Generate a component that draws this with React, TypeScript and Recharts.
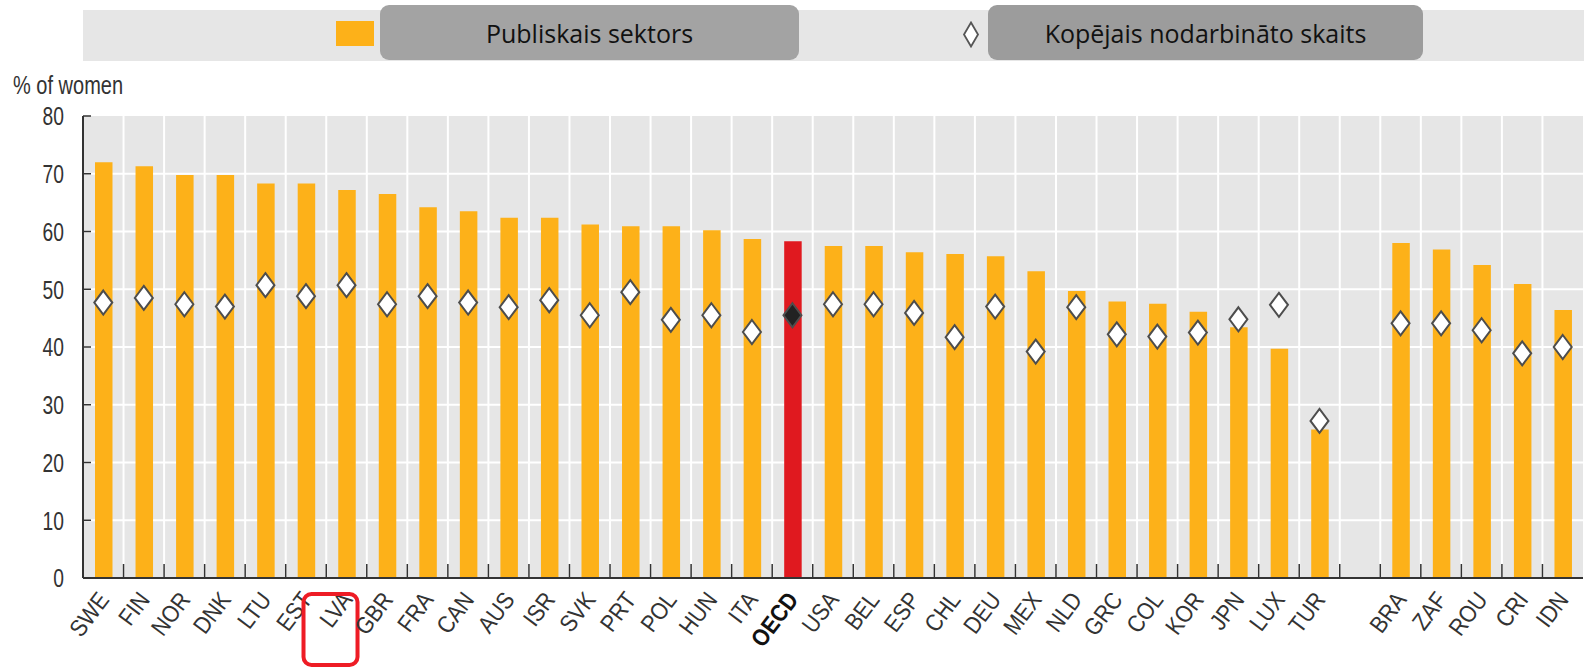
import { ComposedChart, Bar, Line, XAxis, YAxis, CartesianGrid, Cell } from 'recharts';

const countries = ['SWE', 'FIN', 'NOR', 'DNK', 'LTU', 'EST', 'LVA', 'GBR', 'FRA', 'CAN', 'AUS', 'ISR', 'SVK', 'PRT', 'POL', 'HUN', 'ITA', 'OECD', 'USA', 'BEL', 'ESP', 'CHL', 'DEU', 'MEX', 'NLD', 'GRC', 'COL', 'KOR', 'JPN', 'LUX', 'TUR', '', 'BRA', 'ZAF', 'ROU', 'CRI', 'IDN'];
const publicSector = [72.0, 71.3, 69.8, 69.8, 68.3, 68.3, 67.2, 66.5, 64.2, 63.5, 62.4, 62.4, 61.2, 60.9, 60.9, 60.2, 58.7, 58.3, 57.5, 57.5, 56.4, 56.1, 55.7, 53.1, 49.7, 47.9, 47.5, 46.1, 43.4, 39.7, 25.7, null, 58.0, 56.9, 54.2, 50.9, 46.4];
const totalEmployment = [47.7, 48.5, 47.4, 47.0, 50.7, 48.8, 50.7, 47.4, 48.8, 47.7, 46.9, 48.1, 45.5, 49.5, 44.7, 45.5, 42.6, 45.5, 47.4, 47.4, 45.9, 41.7, 47.0, 39.2, 46.9, 42.2, 41.8, 42.5, 44.8, 47.3, 27.2, null, 44.1, 44.1, 42.9, 38.9, 40.0];
const yTicks = [0, 10, 20, 30, 40, 50, 60, 70, 80];

const HIGHLIGHT = 'OECD';
const BOXED = 'LVA';

const data = countries.map((name, i) => ({
    name,
    publiskais: publicSector[i],
    kopejais: totalEmployment[i],
}));

const W = 1584;
const H = 667;
const M = { top: 116, right: 1, left: 0, bottom: 0 };
const Y_W = 83;
const X_H = 89;
const PLOT_W = W - M.left - M.right - Y_W;
const SLOT = PLOT_W / countries.length;

const FONT = "'Liberation Sans', Arial, sans-serif";
const AXIS_COLOR = '#333333';
const LEGEND_FONT = "'Open Sans', sans-serif";

function XTick(props: any) {
    const { x, y, payload, index } = props;
    const name = payload.value;
    const last = index === countries.length - 1;
    return (
        <g>
            {!last && (
                <line x1={x + SLOT / 2} x2={x + SLOT / 2} y1={y} y2={y - 14} stroke={AXIS_COLOR} strokeWidth={1.5} />
            )}
            {name && (
                <text
                    transform={`translate(${x + 7},${y + 22}) rotate(-53) scale(0.88,1)`}
                    textAnchor="end"
                    fontFamily={FONT}
                    fontSize={24}
                    fontWeight={name === HIGHLIGHT ? 700 : 400}
                    fill={name === HIGHLIGHT ? '#111' : AXIS_COLOR}
                >
                    {name}
                </text>
            )}
            {name === BOXED && (
                <rect x={x - 43} y={y + 16} width={54} height={71} rx={8} fill="none" stroke="#ee1c25" strokeWidth={4} />
            )}
        </g>
    );
}

function YTick(props: any) {
    const { x, y, payload } = props;
    return (
        <g>
            <line x1={x + 19} x2={x + 27} y1={y} y2={y} stroke={AXIS_COLOR} strokeWidth={1.5} />
            <text
                transform={`translate(${x},${y}) scale(0.74,1)`}
                dy="0.36em"
                textAnchor="end"
                fontFamily={FONT}
                fontSize={26}
                fill={AXIS_COLOR}
            >
                {payload.value}
            </text>
        </g>
    );
}

function Diamond(props: any) {
    const { cx, cy, payload } = props;
    if (cy == null || isNaN(cy)) return null;
    const dark = payload.name === HIGHLIGHT;
    return (
        <polygon
            key={payload.name}
            points={`${cx},${cy - 12} ${cx + 9},${cy} ${cx},${cy + 12} ${cx - 9},${cy}`}
            fill={dark ? '#222222' : '#ffffff'}
            stroke="#4d4d4d"
            strokeWidth={2}
        />
    );
}

export default function App() {
    return (
        <div style={{ position: 'relative', width: W, height: H, background: '#fff', overflow: 'hidden' }}>
            <style>{`body{margin:0}`}</style>
            {/* legend band */}
            <div style={{ position: 'absolute', left: 83, top: 10, width: W - 83, height: 51, background: '#e6e6e6' }} />
            <div style={{ position: 'absolute', left: 336, top: 21, width: 38, height: 25, background: '#fdb119' }} />
            <div
                style={{
                    position: 'absolute', left: 380, top: 5, width: 419, height: 55, background: '#a3a3a3',
                    borderRadius: 9, display: 'flex', alignItems: 'center', justifyContent: 'center',
                    fontFamily: LEGEND_FONT, fontSize: 25, color: '#111',
                }}
            >
                Publiskais sektors
            </div>
            <svg style={{ position: 'absolute', left: 961, top: 21 }} width={20} height={27}>
                <polygon points="10,1.5 17,13.5 10,25.5 3,13.5" fill="#fff" stroke="#555" strokeWidth={1.8} />
            </svg>
            <div
                style={{
                    position: 'absolute', left: 988, top: 5, width: 435, height: 55, background: '#9c9c9c',
                    borderRadius: 9, display: 'flex', alignItems: 'center', justifyContent: 'center',
                    fontFamily: LEGEND_FONT, fontSize: 25, color: '#111',
                }}
            >
                Kopējais nodarbināto skaits
            </div>
            <div
                style={{
                    position: 'absolute', left: 13, top: 71, fontFamily: FONT, fontSize: 25, color: AXIS_COLOR,
                    transform: 'scaleX(0.8)', transformOrigin: 'left top', whiteSpace: 'nowrap',
                }}
            >
                % of women
            </div>
            <div style={{ position: 'absolute', left: 0, top: 0 }}>
                <ComposedChart width={W} height={H} data={data} margin={M}>
                    <CartesianGrid
                        fill="#e6e6e6"
                        stroke="#ffffff"
                        strokeWidth={2}
                        horizontalValues={yTicks.slice(1, -1)}
                        verticalCoordinatesGenerator={({ offset }: any) =>
                            countries.slice(0, -1).map((_, i) => offset.left + (i + 1) * (offset.width / countries.length))
                        }
                    />
                    <XAxis
                        dataKey="name"
                        height={X_H}
                        interval={0}
                        tickSize={0}
                        tickMargin={0}
                        tick={<XTick />}
                        axisLine={{ stroke: AXIS_COLOR, strokeWidth: 2 }}
                    />
                    <YAxis
                        domain={[0, 80]}
                        ticks={yTicks}
                        width={Y_W}
                        tickSize={0}
                        tickMargin={19}
                        tick={<YTick />}
                        axisLine={{ stroke: AXIS_COLOR, strokeWidth: 2 }}
                    />
                    <Bar dataKey="publiskais" barSize={17.5} isAnimationActive={false}>
                        {data.map((d) => (
                            <Cell key={d.name || 'gap'} fill={d.name === HIGHLIGHT ? '#e0191f' : '#fdb119'} />
                        ))}
                    </Bar>
                    <Line
                        dataKey="kopejais"
                        stroke="none"
                        strokeWidth={0}
                        dot={(p: any) => <Diamond {...p} />}
                        activeDot={false}
                        isAnimationActive={false}
                    />
                </ComposedChart>
            </div>
        </div>
    );
}
